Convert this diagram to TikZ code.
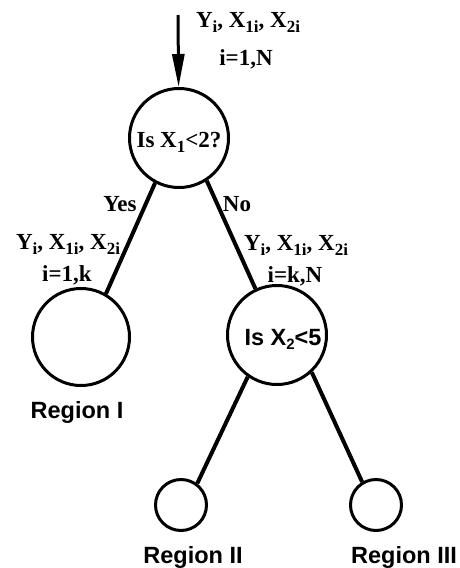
\documentclass[tikz,border=0pt]{standalone}
\usepackage{fontspec}
\setmainfont{Liberation Serif}
\setsansfont{Liberation Sans}
\usetikzlibrary{arrows.meta}
\newcommand\sbx[1]{\raisebox{-5pt}{\fontsize{17}{17}\selectfont #1}}
\newcommand\sbs[1]{\raisebox{-4pt}{\fontsize{15}{15}\selectfont #1}}
\begin{document}
\begin{tikzpicture}[x=1pt,y=-1pt,
  circ/.style={circle,draw,line width=3pt,inner sep=0pt},
  conn/.style={line width=4pt},
  serl/.style={font=\fontsize{23}{25}\selectfont\bfseries,inner sep=0pt,align=center},
  sans/.style={font=\fontsize{23.5}{25}\sffamily\bfseries\selectfont,inner sep=0pt}]
\useasboundingbox (0,0) rectangle (459,568);
% circles
\node[circ,minimum size=99pt] (root) at (179,138) {};
\node[circ,minimum size=97pt] (r1) at (81,337) {};
\node[circ,minimum size=99pt] (q2) at (277,335) {};
\node[circ,minimum size=51pt] (r2) at (181,505) {};
\node[circ,minimum size=51pt] (r3) at (376,505) {};
% texts
\node[serl] (t0) at (248,22) {Y\sbx{i}, X\sbx{1i}, X\sbx{2i}};
\node[serl] (t0b) at (246,59) {i=1,N};
\node[serl] (q1t) at (179,142) {Is X\sbx{1}<2?};
\node[serl] (yes) at (120,204) {Yes};
\node[serl] (no) at (237,204) {No};
\node[serl] (tl) at (68,244) {Y\sbx{i}, X\sbx{1i}, X\sbx{2i}};
\node[serl] (tlb) at (67,275) {i=1,k};
\node[serl] (tr) at (296,245) {Y\sbx{i}, X\sbx{1i}, X\sbx{2i}};
\node[serl] (trb) at (295,276) {i=k,N};
\node[sans] (q2t) at (283,339) {Is X\sbs{2}<5};
\node[sans] (l1) at (77,412) {Region I};
\node[sans] (l2) at (193,557) {Region II};
\node[sans] (l3) at (404,557) {Region III};
% connectors
\coordinate (in) at (178,15);
\draw[line width=3pt,-{Triangle[length=33pt,width=12pt]}] (in) -- (root);
\draw[conn] (root.242) -- (r1.60);
\draw[conn] (root.303) -- (q2.115);
\draw[conn] (q2.235) -- (r2.53);
\draw[conn] (q2.313) -- (r3.121);
\end{tikzpicture}
\end{document}
